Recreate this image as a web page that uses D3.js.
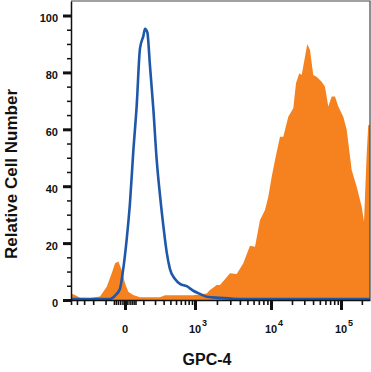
<!DOCTYPE html>
<html>
<head>
<meta charset="utf-8">
<script src="https://cdn.jsdelivr.net/npm/d3@7"></script>
<style>
  body { margin: 0; background: #fff; }
  text { font-family: "Liberation Sans", Arial, sans-serif; font-weight: bold; fill: #111; }
</style>
</head>
<body>
<div id="chart"></div>
<script>
var svgWidth = 371;
var svgHeight = 372;
var margin = {top: 1, right: 1, bottom: 72, left: 71};
var width = svgWidth - margin.left - margin.right;
var height = svgHeight - margin.top - margin.bottom;

// isotype control (blue outline)
var isoX = [-500, -72, -44, -21, -7, 7, 22, 38, 57, 77, 100, 112, 130, 152, 183, 217, 255, 296, 343, 393, 481, 582, 745, 943, 1175, 1455, 2196, 4000, 262144];
var isoY = [0, 0, 1.2, 3.5, 10.5, 21, 34, 51.6, 68, 88, 92.5, 95, 93.7, 82, 66.8, 49, 36.3, 25.8, 16.4, 10.5, 7, 5.3, 4.5, 2.9, 1.8, 0.8, 0.4, 0, 0];

// GPC-4 stained cells (orange fill)
var gpcX = [-500, -431, -355, -232, -141, -92, -62, -44, -28, -13, 0, 14, 38, 77, 152, 255, 319, 582, 943, 1175, 1455, 1613, 1985, 2196, 2975, 3637, 4428, 5396, 6257, 7246, 8391, 9240, 10236, 11418, 13470, 15020, 17710, 20880, 22820, 25450, 27540, 30690, 33090, 36150, 40300, 45060, 53090, 59160, 65930, 73710, 82130, 91520, 107900, 120800, 142700, 168500, 198900, 214800, 235000, 247600, 262144];
var gpcY = [2.3, 1.8, 0.8, 0.7, 1.2, 4.7, 9.4, 12.9, 13.5, 10.5, 5.9, 2.9, 1.8, 1.0, 1.0, 1.0, 1.7, 1.7, 1.7, 2.0, 2.3, 3.5, 5.3, 5.3, 9.4, 9.1, 12.9, 19.1, 18.7, 28.1, 31.6, 36.3, 43.3, 49.2, 57.4, 57.4, 64.4, 67.4, 76.2, 79.7, 79.1, 85.5, 90, 87.9, 79.1, 78.5, 76.7, 75, 68, 71.5, 71.5, 68, 64.4, 59.8, 45.7, 39.8, 32.8, 27.5, 51.6, 61.5, 61.5];

// axis ticks
var yMajor = [0, 20, 40, 60, 80, 100];
var yMinor = [5, 10, 15, 25, 30, 35, 45, 50, 55, 65, 70, 75, 85, 90, 95];
var xMajor = [0, 1e3, 1e4, 1e5];
var xExp = [null, 3, 4, 5];
var xMinor = [-500, -400, -300, -200, -100, -50, -40, -30, -20, -10, 10, 20, 30, 40, 50,
  100, 200, 300, 400, 500, 600, 700, 800, 900,
  2000, 3000, 4000, 5000, 6000, 7000, 8000, 9000,
  20000, 30000, 40000, 50000, 60000, 70000, 80000, 90000, 200000];

var isoData = isoX.map(function(d, i) { return {x: d, y: isoY[i]}; });
var gpcData = gpcX.map(function(d, i) { return {x: d, y: gpcY[i]}; });

var svg = d3.select("#chart")
  .append("svg")
  .attr("width", svgWidth)
  .attr("height", svgHeight);
var chartGroup = svg.append("g")
  .attr("transform", `translate(${margin.left}, ${margin.top})`);

// biexponential-like display: symlog, pinned at the decade marks
var xScale = d3.scaleSymlog()
  .constant(132)
  .domain([-500, 0, 1e3, 1e4, 1e5, 262144])
  .range([0, 54, 124, 200, 270, width]);
var yScale = d3.scaleLinear()
  .domain([0, 105.1])
  .range([height, 0]);

// orange histogram
var area = d3.area()
  .x(d => xScale(d.x))
  .y0(yScale(0))
  .y1(d => yScale(d.y))
  .curve(d3.curveLinear);
chartGroup.append("path")
  .datum(gpcData)
  .attr("d", area)
  .attr("fill", "#f5821f");

// blue isotype line
var line = d3.line()
  .x(d => xScale(d.x))
  .y(d => yScale(d.y) - 1)
  .curve(d3.curveMonotoneX);
chartGroup.append("path")
  .datum(isoData)
  .attr("d", line)
  .attr("fill", "none")
  .attr("stroke", "#1f58a8")
  .attr("stroke-width", 2.6)
  .attr("stroke-linejoin", "round");

// frame (top/right)
chartGroup.append("path")
  .attr("d", `M0,0H${width}V${height}`)
  .attr("fill", "none")
  .attr("stroke", "#444")
  .attr("stroke-width", 1.2);

// y axis
chartGroup.append("g")
  .call(d3.axisLeft(yScale).tickValues(yMinor).tickSize(4).tickFormat(""))
  .call(g => g.select(".domain").remove())
  .selectAll("line").attr("stroke", "#111").attr("stroke-width", 1.5);
var yAxis = chartGroup.append("g")
  .call(d3.axisLeft(yScale).tickValues(yMajor).tickSize(8).tickPadding(5).tickSizeOuter(0));
yAxis.select(".domain").attr("stroke", "#111").attr("stroke-width", 1.5);
yAxis.selectAll("line").attr("stroke", "#111").attr("stroke-width", 3);
yAxis.selectAll("text")
  .attr("font-size", "11px")
  .attr("font-family", "'Liberation Sans', Arial, sans-serif")
  .attr("dy", "0.55em");

// x axis
chartGroup.append("g")
  .attr("transform", `translate(0, ${height})`)
  .call(d3.axisBottom(xScale).tickValues(xMinor).tickSize(5).tickFormat(""))
  .call(g => g.select(".domain").remove())
  .selectAll("line").attr("stroke", "#111").attr("stroke-width", 1.6);
var xAxis = chartGroup.append("g")
  .attr("transform", `translate(0, ${height})`)
  .call(d3.axisBottom(xScale).tickValues(xMajor).tickSize(10).tickFormat("").tickSizeOuter(0));
xAxis.select(".domain").attr("stroke", "#111").attr("stroke-width", 1.5);
xAxis.selectAll("line").attr("stroke", "#111").attr("stroke-width", 3);

// x tick labels with superscript exponents
var xLabels = chartGroup.append("g")
  .attr("transform", `translate(0, ${height + 33})`);
xLabels.selectAll(".base")
  .data(xMajor)
  .enter()
  .append("text")
  .attr("x", d => xScale(d))
  .attr("text-anchor", "middle")
  .attr("font-size", "11px")
  .text(d => d === 0 ? "0" : "10");
xLabels.selectAll(".exp")
  .data(xMajor.filter((d, i) => xExp[i] !== null))
  .enter()
  .append("text")
  .attr("x", d => xScale(d) + 7)
  .attr("y", -7)
  .attr("font-size", "9px")
  .text((d, i) => xExp[i + 1]);

// axis titles
svg.append("text")
  .attr("transform", "translate(17, 174) rotate(-90)")
  .attr("text-anchor", "middle")
  .attr("font-size", "17px")
  .text("Relative Cell Number");
svg.append("text")
  .attr("x", 207)
  .attr("y", 365)
  .attr("text-anchor", "middle")
  .attr("font-size", "16px")
  .text("GPC-4");
</script>
</body>
</html>
